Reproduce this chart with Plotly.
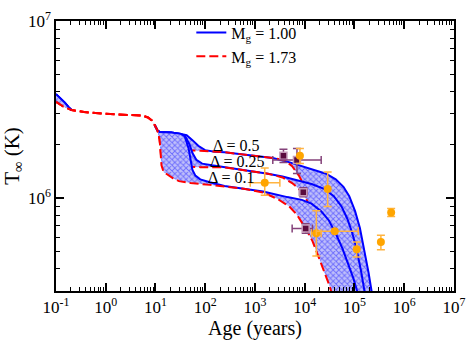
import math
import plotly.graph_objects as go

# --- cooling curves (age in years, T_inf in K) ---
# shared early part
early_blue_age = [0.1, 0.12, 0.15, 0.179, 0.205]
early_blue_T = [3.87e6, 3.69e6, 3.47e6, 3.27e6, 3.15e6]
early_red_age = [0.1, 0.137, 0.205]
early_red_T = [3.51e6, 3.31e6, 3.15e6]
plateau_age = [0.366, 0.898, 2.2, 5.39, 7.05, 8.43, 9.64, 11.0]
plateau_T = [3.07e6, 3.0e6, 2.96e6, 2.93e6, 2.86e6, 2.75e6, 2.59e6, 2.41e6]
blue_top_age = [12.1, 20.7, 32.4]
blue_top_T = [2.37e6, 2.35e6, 2.31e6]
red_drop_age = [12.1, 12.6]
red_drop_T = [2.16e6, 1.91e6]

# M_g = 1.00 tails, one per Delta
b05_age = [42.3, 55.3, 72.4, 99.1, 155, 243, 744, 2280, 4467, 8743, 15670, 26790,
           41980, 59980, 78520, 102800, 128500, 160700, 192300, 219800, 230100]
b05_T = [2.27e6, 2.13e6, 1.98e6, 1.87e6, 1.83e6, 1.82e6, 1.76e6, 1.69e6, 1.61e6, 1.52e6,
         1.445e6, 1.377e6, 1.279e6, 1.161e6, 1.028e6, 0.847e6, 0.681e6, 0.501e6,
         0.379e6, 0.301e6, 0.273e6]
b025_age = [40.5, 48.4, 55.3, 66.2, 86.7, 136, 243, 744, 1823, 3570, 6982, 13680, 24490,
            38370, 54830, 71780, 89740, 107400, 134300, 160700, 168300]
b025_T = [2.21e6, 2.01e6, 1.80e6, 1.65e6, 1.57e6, 1.535e6, 1.50e6, 1.43e6, 1.377e6,
          1.327e6, 1.265e6, 1.205e6, 1.132e6, 1.028e6, 0.900e6, 0.767e6, 0.640e6,
          0.533e6, 0.394e6, 0.301e6, 0.273e6]
b01_age = [38.7, 46.3, 50.6, 55.3, 63.4, 79.3, 124, 243, 594, 1456, 4467, 8743, 13680,
           21420, 30620, 43850, 57410, 74990, 93970, 112500, 117500]
b01_T = [2.24e6, 1.91e6, 1.63e6, 1.445e6, 1.343e6, 1.279e6, 1.233e6, 1.175e6, 1.132e6,
         1.094e6, 1.016e6, 0.980e6, 0.933e6, 0.847e6, 0.750e6, 0.617e6, 0.520e6,
         0.429e6, 0.357e6, 0.301e6, 0.273e6]

# M_g = 1.73 tails
r05_age = [13.8, 46.3, 79.3, 243, 744, 2280, 4085, 5585, 7638, 10940, 15670, 22390,
           32060, 43850, 47970]
r05_T = [1.87e6, 1.87e6, 1.857e6, 1.82e6, 1.76e6, 1.69e6, 1.633e6, 1.517e6, 1.343e6,
         1.107e6, 0.867e6, 0.640e6, 0.460e6, 0.328e6, 0.273e6]
r025_age = [13.2, 15.1, 35.4, 79.3, 243, 744, 1823, 3570, 5585, 7638, 10940, 15670,
            22390, 30620, 40090, 43850]
r025_T = [1.63e6, 1.535e6, 1.517e6, 1.499e6, 1.495e6, 1.43e6, 1.377e6, 1.312e6, 1.219e6,
          1.132e6, 0.980e6, 0.787e6, 0.603e6, 0.445e6, 0.328e6, 0.273e6]
r01_age = [13.2, 14.5, 17.3, 22.6, 29.6, 50.6, 124, 243, 594, 1456, 2852, 4887, 6982,
           10000, 14320, 18710, 24490, 30620, 35080, 36650]
r01_T = [1.535e6, 1.41e6, 1.361e6, 1.297e6, 1.25e6, 1.219e6, 1.191e6, 1.161e6, 1.132e6,
         1.079e6, 0.991e6, 0.900e6, 0.807e6, 0.689e6, 0.574e6, 0.472e6, 0.389e6,
         0.328e6, 0.290e6, 0.273e6]

deltas = ["0.5", "0.25", "0.1"]
blue_tails = [(b05_age, b05_T), (b025_age, b025_T), (b01_age, b01_T)]
red_tails = [(r05_age, r05_T), (r025_age, r025_T), (r01_age, r01_T)]

# --- observed stars ---
orange_age = [1570, 8000, 28900, 17110, 40090, 110900, 339600, 546000]
orange_T = [1.224e6, 1.741e6, 1.129e6, 0.635e6, 0.653e6, 0.516e6, 0.567e6, 0.833e6]
orange_T_hi = [1.483e6, 1.912e6, 1.41e6, 0.850e6, None, 0.567e6, 0.619e6, 0.875e6]
orange_T_lo = [1.04e6, 1.573e6, 0.900e6, 0.472e6, None, 0.467e6, 0.512e6, 0.790e6]
orange_age_lo = [803, None, None, 13680, 17110, None, None, None]
orange_age_hi = [3162, None, None, 21400, 119000, None, None, None]

purple_age = [3733, 6982, 9355, 10450]
purple_T = [1.741e6, 1.647e6, 1.082e6, 0.676e6]
purple_T_hi = [1.889e6, 1.912e6, 1.146e6, 0.718e6]
purple_T_lo = [1.594e6, 1.382e6, 1.021e6, 0.636e6]
purple_age_lo = [None, 2280, 7820, 5585]
purple_age_hi = [None, 21420, 11190, 14320]

BLUE = "#0000ff"
RED = "#ff0000"
FONT = "Liberation Serif, Times New Roman, serif"
hatch = dict(shape="x", fgcolor="#1818ff", bgcolor="#c0c0fa", size=4, solidity=0.42)

fig = go.Figure()

for n, (d, (bta, btt), (rta, rtt)) in enumerate(zip(deltas, blue_tails, red_tails)):
    bx = early_blue_age + plateau_age + blue_top_age + bta
    by = early_blue_T + plateau_T + blue_top_T + btt
    rx = early_red_age + plateau_age + red_drop_age + rta
    ry = early_red_T + plateau_T + red_drop_T + rtt
    # hatched band between the two masses
    fig.add_trace(go.Scatter(
        x=bx + rx[::-1], y=by + ry[::-1], mode="lines", fill="toself",
        fillcolor="#c0c0fa", fillpattern=hatch, line=dict(width=0),
        hoverinfo="skip", showlegend=False,
    ))
    # blue line hidden under the red one on the plateau
    blx = early_blue_age + [None] + plateau_age[-2:] + blue_top_age + bta
    bly = early_blue_T + [None] + plateau_T[-2:] + blue_top_T + btt
    fig.add_trace(go.Scatter(
        x=blx, y=bly, mode="lines", line=dict(color=BLUE, width=2),
        name="M<sub>g</sub> = 1.00", legendgroup="b", showlegend=(n == 0),
    ))
    fig.add_trace(go.Scatter(
        x=rx, y=ry, mode="lines", line=dict(color=RED, width=2, dash="9px,4px"),
        name="M<sub>g</sub> = 1.73", legendgroup="r", showlegend=(n == 0),
    ))


def add_points(ages, temps, t_hi, t_lo, a_lo, a_hi, marker, ecolor):
    for i in range(len(ages)):
        ey = dict(visible=False)
        ex = dict(visible=False)
        if t_hi[i] is not None:
            ey = dict(type="data", symmetric=False, array=[t_hi[i] - temps[i]],
                      arrayminus=[temps[i] - t_lo[i]], color=ecolor, thickness=1.5, width=4)
        if a_lo[i] is not None:
            ex = dict(type="data", symmetric=False, array=[a_hi[i] - ages[i]],
                      arrayminus=[ages[i] - a_lo[i]], color=ecolor, thickness=1.5, width=4)
        fig.add_trace(go.Scatter(
            x=[ages[i]], y=[temps[i]], mode="markers", marker=marker,
            error_y=ey, error_x=ex, showlegend=False,
        ))


add_points(purple_age, purple_T, purple_T_hi, purple_T_lo, purple_age_lo, purple_age_hi,
           dict(symbol="square", size=7, color="#5a0c3e", line=dict(color="#c49ab8", width=1.5)),
           "#84427a")
add_points(orange_age, orange_T, orange_T_hi, orange_T_lo, orange_age_lo, orange_age_hi,
           dict(symbol="circle", size=8, color="#ffa500"), "#ffb440")

# Delta labels
for d, a, t in [("0.5", 416, 1.99e6), ("0.25", 440, 1.62e6), ("0.1", 332, 1.315e6)]:
    fig.add_annotation(x=math.log10(a), y=math.log10(t), text=f"Δ = {d}",
                       showarrow=False, font=dict(size=16, family=FONT))

decades_x = list(range(-1, 8))
minor_x = [m * 10.0 ** e for e in range(-1, 7) for m in range(2, 10)]
minor_y = [m * 10.0 ** e for e in (5, 6) for m in range(2, 10)]

axis_common = dict(
    type="log", showgrid=False, zeroline=False, showline=True, linecolor="black",
    linewidth=1.5, mirror="ticks", ticks="inside", ticklen=8, tickwidth=1.5,
    tickcolor="black", tickfont=dict(size=17, family=FONT), ticklabeloverflow="allow",
)
fig.update_xaxes(
    **axis_common, range=[-1, 7.0005],
    tickmode="array", tickvals=[10.0 ** e for e in decades_x],
    ticktext=[f"10<sup>{e}</sup>" for e in decades_x],
    minor=dict(tickmode="array", tickvals=minor_x, ticks="inside", ticklen=4,
               tickwidth=1, tickcolor="black"),
    title=dict(text="Age (years)", font=dict(size=20, family=FONT), standoff=2),
)
fig.update_yaxes(
    **axis_common, range=[math.log10(3e5), 7.0005],
    tickmode="array", tickvals=[1e6, 1e7],
    ticktext=["10<sup>6</sup>", "10<sup>7</sup>"],
    minor=dict(tickmode="array", tickvals=minor_y, ticks="inside", ticklen=4,
               tickwidth=1, tickcolor="black"),
    title=dict(text="T<sub>∞</sub> (K)", font=dict(size=21, family=FONT), standoff=4),
)

fig.update_layout(
    width=474, height=342,
    margin=dict(l=51, r=12, t=9, b=45),
    paper_bgcolor="white", plot_bgcolor="white",
    font=dict(family=FONT, size=16, color="black"),
    legend=dict(x=0.34, y=1.02, xanchor="left", yanchor="top",
                bgcolor="rgba(0,0,0,0)", font=dict(size=16, family=FONT),
                itemwidth=30, tracegroupgap=0),
)

fig.write_html("out.html", config={"displayModeBar": False},
               post_script="document.body.style.margin='0';")
